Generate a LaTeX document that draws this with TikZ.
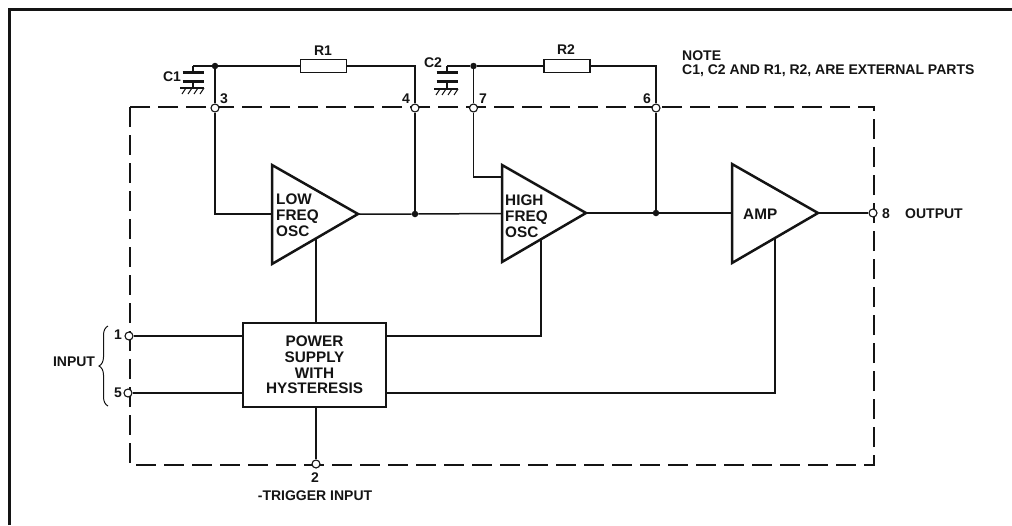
\documentclass[tikz,border=0pt]{standalone}
\usepackage{fontspec}
\setmainfont{Liberation Sans}
\usepackage{xcolor}
\usetikzlibrary{decorations.pathreplacing}
\definecolor{tinta}{RGB}{20,20,20}
\tikzset{
  wire/.style={line width=1.5pt,tinta},
  plate/.style={line width=3pt,tinta},
  ampedge/.style={line width=2.5pt,tinta,line join=miter},
  pin/.style={circle,draw=tinta,fill=white,line width=1.1pt,inner sep=0pt,minimum size=8pt},
  joint/.style={circle,fill=tinta,inner sep=0pt,minimum size=6.5pt},
  resbox/.style={rectangle,draw=tinta,fill=white,line width=1.5pt,inner sep=0pt,minimum width=46pt,minimum height=13pt},
  pinlabel/.style={font=\fontsize{14}{14.3}\selectfont\bfseries,text=tinta,inner sep=0pt},
  amplabel/.style={font=\fontsize{15.3}{16}\selectfont\bfseries,text=tinta,inner sep=0pt,align=left,anchor=west},
}
\begin{document}
\begin{tikzpicture}[x=1pt,y=-1pt]
    \useasboundingbox (0,0) rectangle (1012,525);
    % outer frame and dashed package outline
    \draw[line width=3pt,tinta] (9,525)--(9,9)--(1012,9);
    \draw[line width=1.3pt,tinta,dash pattern=on 20pt off 8pt] (130,107) rectangle (874,465);
    % pins
    \node[pin] (pinthree) at (215,108) {};
    \node[pin] (pinfour) at (415,108) {};
    \node[pin] (pinseven) at (473.5,108) {};
    \node[pin] (pinsix) at (656,108) {};
    \node[pin] (pinone) at (129,336) {};
    \node[pin] (pinfive) at (128,393) {};
    \node[pin] (pintwo) at (316,464) {};
    \node[pin] (pineight) at (873,213) {};
    \node[pinlabel] (lblthree) at (224,99) {3};
    \node[pinlabel] (lblfour) at (406,99) {4};
    \node[pinlabel] (lblseven) at (483,99) {7};
    \node[pinlabel] (lblsix) at (647,99) {6};
    \node[pinlabel] (lblone) at (118,335) {1};
    \node[pinlabel] (lblfive) at (118,393) {5};
    \node[pinlabel] (lbltwo) at (315,478) {2};
    \node[pinlabel] (lbleight) at (886,214) {8};
    % external parts
    \node[resbox] (rone) at (323.5,66) {};
    \node[resbox] (rtwo) at (567,66) {};
    \node[pinlabel] (lblrone) at (323,51) {R1};
    \node[pinlabel] (lblrtwo) at (566,50) {R2};
    \node[pinlabel] (lblcone) at (172,77) {C1};
    \node[pinlabel] (lblctwo) at (433,63) {C2};
    \node[joint] (jthree) at (215,66) {};
    \node[joint] (jseven) at (473.5,66) {};
    \coordinate (cornerfour) at (415,66);
    \coordinate (cornersix) at (656,66);
    \coordinate (capone) at (193,66);
    \coordinate (captwo) at (447,66);
    \draw[wire] (capone)--(jthree)--(rone)--(cornerfour)--(pinfour);
    \draw[wire] (captwo)--(jseven)--(rtwo)--(cornersix)--(pinsix);
    \draw[wire] (jthree)--(pinthree);
    \draw[wire] (jseven)--(pinseven);
    % capacitors with their ground
    \foreach \cx/\gy in {193/88,447/89}{
        \draw[wire] (\cx,66)--(\cx,72) (\cx,80)--(\cx,\gy);
        \draw[plate] (\cx-10.5,72)--(\cx+10.5,72);
        \draw[plate] (\cx-10.5,81)--(\cx+10.5,81);
        \draw[line width=1.2pt,tinta] (\cx-13,\gy)--(\cx+11,\gy);
        \foreach \hx in {-9,-3,3,9}
            \draw[line width=1pt,tinta] (\cx+\hx+2,\gy)--(\cx+\hx-2,\gy+6);
    }
    % amplifiers
    \draw[ampedge] (272,165)--(358,214)--(272,264)--cycle;
    \draw[ampedge] (502,165)--(586,213)--(502,262)--cycle;
    \draw[ampedge] (732,164)--(818,213)--(732,263)--cycle;
    \node[amplabel] (lowosc) at (276,215) {LOW\\FREQ\\OSC};
    \node[amplabel] (highosc) at (505,216) {HIGH\\FREQ\\OSC};
    \node[amplabel] (amp) at (743,214) {AMP};
    % power supply
    \node[rectangle,draw=tinta,line width=2.6pt,minimum width=143pt,minimum height=84pt,inner sep=0pt,
        font=\fontsize{15.3}{15.7}\selectfont\bfseries,text=tinta,align=center] (supply) at (314.5,365)
        {POWER\\SUPPLY\\WITH\\HYSTERESIS};
    % signal path
    \coordinate (lowin) at (272,214);
    \coordinate (lowout) at (358,214);
    \coordinate (highin) at (502,213.5);
    \coordinate (highout) at (586,213);
    \coordinate (highaux) at (502,177);
    \coordinate (ampin) at (732,213);
    \coordinate (ampout) at (818,213);
    \node[joint] (jfour) at (415,214) {};
    \node[joint] (jsix) at (656,213) {};
    \draw[wire] (pinthree)--(215,214)--(lowin);
    \draw[wire] (lowout)--(jfour)--(highin);
    \draw[wire] (jfour)--(pinfour);
    \draw[wire] (pinseven)--(473.5,177)--(highaux);
    \draw[wire] (highout)--(jsix)--(ampin);
    \draw[wire] (jsix)--(pinsix);
    \draw[wire] (ampout)--(pineight);
    % supply lines
    \coordinate (lowpwr) at (316,239);
    \coordinate (highpwr) at (541,240);
    \coordinate (amppwr) at (775,239);
    \draw[wire] (lowpwr)--(316,323);
    \draw[wire] (highpwr)--(541,336)--(386,336);
    \draw[wire] (amppwr)--(775,393)--(386,393);
    \draw[wire] (pinone)--(243,336);
    \draw[wire] (pinfive)--(243,393);
    \draw[wire] (316,407)--(pintwo);
    % input brace and texts
    \draw[line width=1pt,tinta,decorate,decoration={brace,amplitude=9pt}] (108,406)--(108,326);
    \node[pinlabel] (input) at (74,362) {INPUT};
    \node[pinlabel] (trigger) at (315,496) {-TRIGGER INPUT};
    \node[pinlabel,anchor=west] (output) at (905,214) {OUTPUT};
    \node[pinlabel,anchor=west,align=left] (note) at (682,64)
        {NOTE\\C1, C2 AND R1, R2, ARE EXTERNAL PARTS};
\end{tikzpicture}
\end{document}
